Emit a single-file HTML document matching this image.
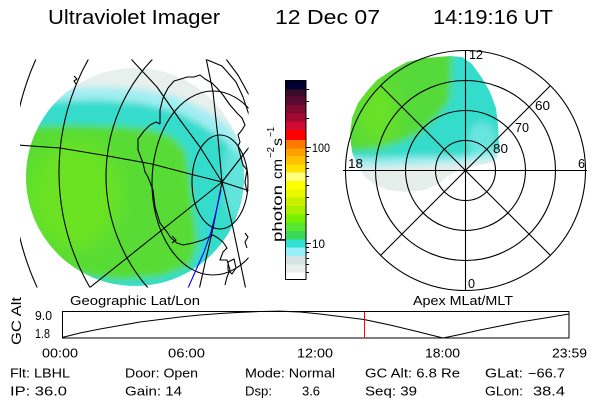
<!DOCTYPE html>
<html><head><meta charset="utf-8"><style>
html,body{margin:0;padding:0;background:#fff;width:600px;height:400px;overflow:hidden;}
svg{display:block;}
text{font-family:"Liberation Sans",sans-serif;fill:#000;}
</style></head><body>
<svg width="600" height="400" viewBox="0 0 600 400" xmlns="http://www.w3.org/2000/svg">
<defs>
<clipPath id="cd"><circle cx="135" cy="177" r="109"/></clipPath>
<clipPath id="cr"><rect x="20" y="59.5" width="228.5" height="228"/></clipPath>
<clipPath id="cp"><polygon points="350,135 352,118 358,103 368,90 377,80 392,70 407,62 425,58 450,56 462,57 472,64 482,78 490,92 496,108 498,125 499,145 497,158 490,163 475,166 460,170 448,176 438,184 425,190 405,192 388,190 375,185 365,177 357,165 352,152"/></clipPath>
<filter id="b3" x="-10%" y="-10%" width="120%" height="120%"><feGaussianBlur stdDeviation="3.5"/></filter>
<filter id="b10" x="-50%" y="-50%" width="200%" height="200%"><feGaussianBlur stdDeviation="10"/></filter>
</defs>
<rect width="600" height="400" fill="#fff"/>

<!-- Title -->
<text x="48" y="24" font-size="20" textLength="172" lengthAdjust="spacingAndGlyphs">Ultraviolet Imager</text>
<text x="275" y="24" font-size="20" textLength="105" lengthAdjust="spacingAndGlyphs">12 Dec 07</text>
<text x="433" y="24" font-size="20" textLength="120" lengthAdjust="spacingAndGlyphs">14:19:16 UT</text>

<!-- Left image disk -->
<g clip-path="url(#cd)">
 <g filter="url(#b3)">
  <rect x="10" y="55" width="250" height="235" fill="#e8f0ed"/>
  <path d="M10,94 L60,88 L100,87 L140,89 L175,96 L205,110 L228,125 L245,145 L260,160 L260,290 L10,290 Z" fill="#a0eef2"/>
  <path d="M10,106 L60,101 L100,100 L140,103 L175,111 L200,124 L222,138 L240,155 L260,170 L260,290 L10,290 Z" fill="#36dccc"/>
  <path d="M10,130 L40,126 L80,125 L120,126 L150,129 L172,136 L185,150 L190,175 L194,210 L198,245 L190,266 L160,277 L120,280 L90,277 L60,268 L30,252 L10,244 Z" fill="#58dc36"/>
  <ellipse cx="235" cy="178" rx="12" ry="40" fill="#9aeef0" opacity="0.45"/>
 </g>
 <ellipse cx="75" cy="195" rx="45" ry="55" fill="#90f000" opacity="0.35" filter="url(#b10)"/>
</g>

<!-- Left grid lines -->
<g clip-path="url(#cr)" fill="none" stroke="#000" stroke-width="1.1" stroke-linejoin="round">
 <path d="M37.8,55 A278,278 0 0 0 38.3,290"/>
 <path d="M90.8,55 A231,231 0 0 0 91.4,290"/>
 <path d="M156.6,55 A170,170 0 0 0 149.9,290"/>
 <ellipse cx="213" cy="183" rx="61" ry="92"/>
 <ellipse cx="220" cy="182" rx="28" ry="47"/>
 <path d="M205,59 L222,66 L236,82 L243,97 L249,115"/>
 <path d="M226,59 L238,75 L249,95"/>
 <path d="M18,145 L60,148 L108,156 L152,164 L190,174 L222,182 L250,191"/>
 <path d="M131,59 L157,87 L180,120 L200,147 L222,182"/>
 <path d="M206,58 L213,92 L218,138 L222,182"/>
 <path d="M222,182 L250,146"/>
 <path d="M222,182 L88,289"/>
 <path d="M222,182 L213,228 L199,290"/>
 <path d="M222,182 L233,228 L246,290"/>
 <path d="M160,124 L160,110 L163,98 L168,88 L174,81 L181,79 L187,77 L194,77 L200,75 L205,79 L212,83 L217,88 L223,95 L230,105 L237,113 L242,118 L245,125 L242,130 L238,135 L240,142 L238,146 L243,165 L247,170 L245,182 L247,192"/>
 <path d="M160,124 L156,122 L150,125 L144,131 L138,139 L138,150 L143,163 L145,172 L148,177 L153,190 L155,207 L160,223 L167,232 L171,238 L177,243 L183,245 L193,243 L203,240 L213,235 L218,238 L223,242 L227,248 L223,252 L220,260 L227,260 L230,270 L227,277 L225,285"/>
 <path d="M228,262 L234,259 L236,268 L232,274 L228,270 Z"/>
 <path d="M245,233 L248,237 L245,242 L247,248"/>
 <path d="M172,236 L176,240 L172,243"/>
 <path d="M74,76 L77,79 L74,81 L76,84"/>
 <path d="M221,190 L216,212 L211,232 L204,252 L196,270 L188,288" stroke="#0000ff"/>
</g>

<!-- Colorbar -->
<g shape-rendering="crispEdges">
<rect x="285" y="80" width="21" height="9.8" fill="#000030"/>
<rect x="285" y="89.3" width="21" height="7.9" fill="#3a0a28"/>
<rect x="285" y="96.7" width="21" height="8.8" fill="#5a0a30"/>
<rect x="285" y="105" width="21" height="8.8" fill="#800a30"/>
<rect x="285" y="113.3" width="21" height="8.9" fill="#a00a30"/>
<rect x="285" y="121.7" width="21" height="8.8" fill="#d00a30"/>
<rect x="285" y="130" width="21" height="10.5" fill="#ff0000"/>
<rect x="285" y="140" width="21" height="8.8" fill="#ff7800"/>
<rect x="285" y="148.3" width="21" height="8.2" fill="#ffa000"/>
<rect x="285" y="156" width="21" height="8.8" fill="#ffc000"/>
<rect x="285" y="164.3" width="21" height="8.9" fill="#ffe000"/>
<rect x="285" y="172.7" width="21" height="8.8" fill="#ffff80"/>
<rect x="285" y="181" width="21" height="8.8" fill="#ffff00"/>
<rect x="285" y="189.3" width="21" height="8.9" fill="#e8f800"/>
<rect x="285" y="197.7" width="21" height="8.8" fill="#c8f000"/>
<rect x="285" y="206" width="21" height="8.8" fill="#a8f000"/>
<rect x="285" y="214.3" width="21" height="8.9" fill="#78f000"/>
<rect x="285" y="222.7" width="21" height="8.8" fill="#58e830"/>
<rect x="285" y="231" width="21" height="8.8" fill="#38d858"/>
<rect x="285" y="239.3" width="21" height="8.9" fill="#30e0d0"/>
<rect x="285" y="247.7" width="21" height="8.8" fill="#98eef8"/>
<rect x="285" y="256" width="21" height="8.8" fill="#d4e2e2"/>
<rect x="285" y="264.3" width="21" height="8.9" fill="#e8f0ec"/>
<rect x="285" y="272.7" width="21" height="7.3" fill="#ffffff"/>
<rect x="285.5" y="80.5" width="20.5" height="199" fill="none" stroke="#000" stroke-width="1"/>
<g stroke="#000" stroke-width="1">
 <path d="M306,147.5 H311 M306,243.5 H311"/>
 <path d="M306,272.5 H309 M306,264.5 H309 M306,258.5 H309 M306,252.5 H309 M306,247.5 H309 M306,214.5 H309 M306,197.5 H309 M306,185.5 H309 M306,176.5 H309 M306,168.5 H309 M306,162.5 H309 M306,156.5 H309 M306,151.5 H309 M306,118.5 H309 M306,101.5 H309 M306,89.5 H309"/>
</g>
</g>
<text x="312" y="152" font-size="12" textLength="18" lengthAdjust="spacingAndGlyphs">100</text>
<text x="312" y="248" font-size="12" textLength="13" lengthAdjust="spacingAndGlyphs">10</text>
<g transform="translate(282,242) rotate(-90)">
 <text x="0" y="0" font-size="14" textLength="57" lengthAdjust="spacingAndGlyphs">photon</text>
 <text x="63" y="0" font-size="14" textLength="20" lengthAdjust="spacingAndGlyphs">cm</text>
 <text x="84" y="-8" font-size="10" textLength="11" lengthAdjust="spacingAndGlyphs">−2</text>
 <text x="96" y="0" font-size="14" textLength="8" lengthAdjust="spacingAndGlyphs">s</text>
 <text x="105" y="-8" font-size="10" textLength="10" lengthAdjust="spacingAndGlyphs">−1</text>
</g>

<!-- Polar image -->
<g clip-path="url(#cp)">
 <g filter="url(#b3)">
  <rect x="330" y="40" width="190" height="170" fill="#e6eeeb"/>
  <path d="M330,167 L380,167 L420,165 L460,163 L500,158 L520,150 L520,40 L330,40 Z" fill="#a0eef2"/>
  <path d="M330,158 L380,158 L420,157 L460,157 L500,150 L520,145 L520,40 L330,40 Z" fill="#36dccc"/>
  <ellipse cx="482" cy="140" rx="14" ry="18" fill="#9aeef0" opacity="0.5"/>
  <path d="M330,151 L360,151 L383,147 L405,140 L420,133 L437,117 L450,100 L452,60 L455,40 L330,40 Z" fill="#56da3a"/>
 </g>
 <ellipse cx="378" cy="112" rx="20" ry="34" fill="#90f000" opacity="0.35" filter="url(#b10)"/>
</g>

<!-- Polar grid -->
<g fill="none" stroke="#000" stroke-width="1.1">
 <circle cx="465.5" cy="170.5" r="30"/>
 <circle cx="465.5" cy="170.5" r="60"/>
 <circle cx="465.5" cy="170.5" r="90"/>
 <circle cx="465.5" cy="170.5" r="120"/>
 <path d="M343,170.5 H587 M465.5,50 V291 M380.6,85.6 L550.4,255.4 M550.4,85.6 L380.6,255.4"/>
</g>
<g font-size="12.5">
<text x="469" y="59" textLength="14" lengthAdjust="spacingAndGlyphs">12</text>
<text x="348" y="168" textLength="15" lengthAdjust="spacingAndGlyphs">18</text>
<text x="578" y="168" textLength="7" lengthAdjust="spacingAndGlyphs">6</text>
<text x="468" y="288" textLength="7" lengthAdjust="spacingAndGlyphs">0</text>
<text x="535" y="110" textLength="15" lengthAdjust="spacingAndGlyphs">60</text>
<text x="515" y="132" textLength="14" lengthAdjust="spacingAndGlyphs">70</text>
<text x="493" y="153" textLength="15" lengthAdjust="spacingAndGlyphs">80</text>
</g>

<!-- Bottom plot -->
<g font-size="12.5">
<text x="70" y="305" textLength="130" lengthAdjust="spacingAndGlyphs">Geographic Lat/Lon</text>
<text x="413" y="305" textLength="100" lengthAdjust="spacingAndGlyphs">Apex MLat/MLT</text>
<text x="35" y="320" textLength="17" lengthAdjust="spacingAndGlyphs">9.0</text>
<text x="35" y="338" textLength="15" lengthAdjust="spacingAndGlyphs">1.8</text>
</g>
<text transform="translate(21,345) rotate(-90)" font-size="13.5" textLength="48" lengthAdjust="spacingAndGlyphs">GC Alt</text>
<rect x="62.5" y="311.5" width="506.5" height="26.5" fill="none" stroke="#000" stroke-width="1" shape-rendering="crispEdges"/>
<polyline fill="none" stroke="#000" stroke-width="1.1" stroke-linejoin="round" points="62,337.5 70,335.5 80,333 100,329 120,325.5 140,322 160,319.5 180,317 200,315 220,313.5 240,312.3 260,311.5 280,311.2 300,312 320,314 340,316.5 364,319.5 390,325 415,331 435,336 443,338 460,334.5 480,330 500,326 520,322 545,318 569,314"/>
<path d="M364.5,311.5 V338" stroke="#ff0000" stroke-width="1.2" shape-rendering="crispEdges"/>

<g font-size="12.5">
<text x="42" y="357.5" textLength="36" lengthAdjust="spacingAndGlyphs">00:00</text>
<text x="168" y="357.5" textLength="37" lengthAdjust="spacingAndGlyphs">06:00</text>
<text x="297" y="357.5" textLength="36" lengthAdjust="spacingAndGlyphs">12:00</text>
<text x="425" y="357.5" textLength="35" lengthAdjust="spacingAndGlyphs">18:00</text>
<text x="552" y="357.5" textLength="35" lengthAdjust="spacingAndGlyphs">23:59</text>

<text x="10" y="377.5" textLength="60" lengthAdjust="spacingAndGlyphs">Flt: LBHL</text>
<text x="125" y="377.5" textLength="73" lengthAdjust="spacingAndGlyphs">Door: Open</text>
<text x="245" y="377.5" textLength="90" lengthAdjust="spacingAndGlyphs">Mode: Normal</text>
<text x="365" y="377.5" textLength="95" lengthAdjust="spacingAndGlyphs">GC Alt: 6.8 Re</text>
<text x="485" y="377.5" textLength="38" lengthAdjust="spacingAndGlyphs">GLat:</text>
<text x="528" y="377.5" textLength="37" lengthAdjust="spacingAndGlyphs">−66.7</text>

<text x="10" y="395.5" textLength="57" lengthAdjust="spacingAndGlyphs">IP: 36.0</text>
<text x="125" y="395.5" textLength="57" lengthAdjust="spacingAndGlyphs">Gain: 14</text>
<text x="245" y="395.5" textLength="27" lengthAdjust="spacingAndGlyphs">Dsp:</text>
<text x="302" y="395.5" textLength="18" lengthAdjust="spacingAndGlyphs">3.6</text>
<text x="365" y="395.5" textLength="52" lengthAdjust="spacingAndGlyphs">Seq: 39</text>
<text x="485" y="395.5" textLength="38" lengthAdjust="spacingAndGlyphs">GLon:</text>
<text x="533" y="395.5" textLength="32" lengthAdjust="spacingAndGlyphs">38.4</text>
</g>
</svg>
</body></html>
